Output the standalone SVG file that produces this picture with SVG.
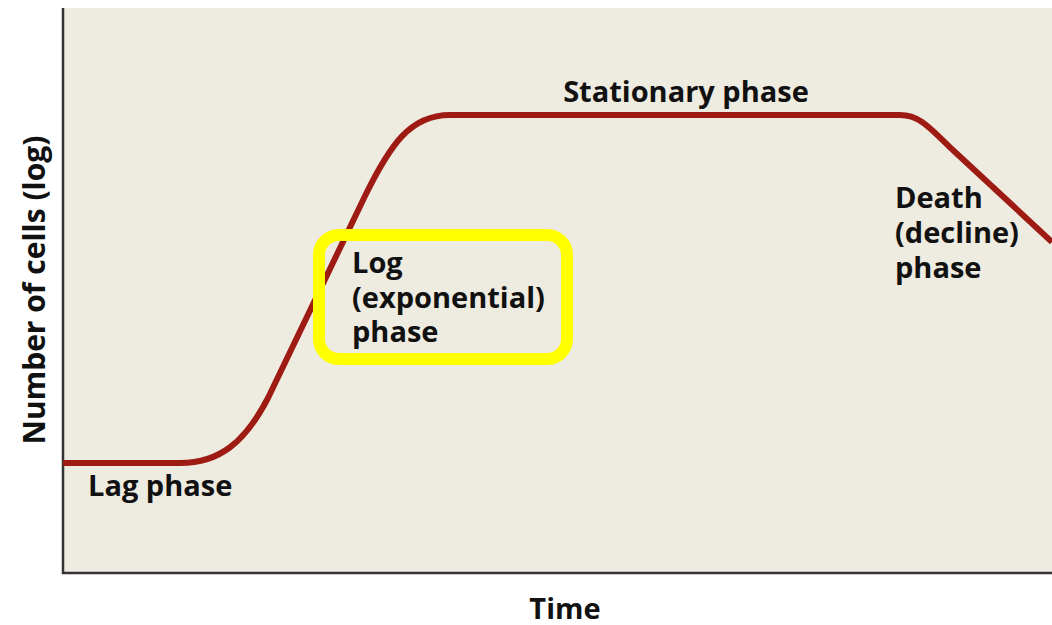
<svg xmlns="http://www.w3.org/2000/svg" width="1052" height="625" viewBox="0 0 1052 625">
<style>
.t{font-family:"Open Sans","Liberation Sans",sans-serif;font-weight:bold;font-size:29px;fill:#111}
</style>
<rect width="1052" height="625" fill="#fff"/>
<g id="plot">
<rect x="63" y="8" width="989" height="565" fill="#EEEBE0"/>
<path d="M63,8 V573 H1052" fill="none" stroke="#333" stroke-width="2.5"/>
</g>
<g id="connectors">
<path d="M63,463 L180,463 C220,463 245,442 268,398 L365,196 C390,145 410,115 450,115 L900,115 C922,115 933,132 955,152 L1052,242" fill="none" stroke="#9E1B13" stroke-width="6"/>
</g>
<g id="stationary"><text class="t" x="686" y="102" text-anchor="middle">Stationary phase</text></g>
<g id="lag"><text class="t" x="88" y="496">Lag phase</text></g>
<g id="log">
<rect x="319" y="235" width="248" height="124" rx="20" fill="none" stroke="#FFFF00" stroke-width="12"/>
<text class="t" x="352" y="273">Log</text>
<text class="t" x="352" y="308">(exponential)</text>
<text class="t" x="352" y="342">phase</text>
</g>
<g id="death">
<text class="t" x="895" y="208">Death</text>
<text class="t" x="895" y="243">(decline)</text>
<text class="t" x="895" y="278">phase</text>
</g>
<g id="xlabel"><text class="t" x="565" y="619" text-anchor="middle">Time</text></g>
<g id="ylabel"><text class="t" style="font-size:30px" transform="translate(45,290) rotate(-90)" text-anchor="middle">Number of cells (log)</text></g>
</svg>
